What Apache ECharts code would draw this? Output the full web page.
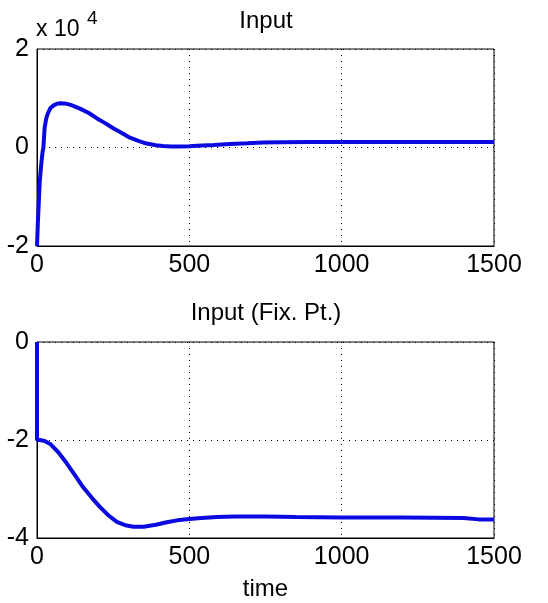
<!DOCTYPE html>
<html>
<head>
<meta charset="utf-8">
<script src="https://cdn.jsdelivr.net/npm/echarts@6/dist/echarts.min.js"></script>
<style>
html,body{margin:0;padding:0;background:#fff;}
#c{width:548px;height:603px;}
</style>
</head>
<body>
<div id="c"></div>
<script>
// ---- data ----
const xTicks = [0, 500, 1000, 1500];
const topTitle = "Input";
const bottomTitle = "Input (Fix. Pt.)";
const xName = "time";

const topTime = [0, 3, 6, 9, 13, 18, 21, 25, 30, 36, 44, 53, 64, 75, 90, 108, 125, 141, 170, 197, 225, 250, 280, 305, 335, 360, 390, 414, 440, 469, 500, 525, 580, 634, 690, 742, 800, 900, 1000, 1100, 1200, 1300, 1400, 1500];
const topValue = [-20000, -15000, -11000, -7000, -4000, -1000, 0, 4000, 5800, 7000, 8000, 8500, 8850, 9000, 8950, 8700, 8300, 7900, 7000, 5900, 4900, 3900, 2900, 2000, 1300, 800, 450, 300, 220, 200, 250, 350, 500, 700, 850, 1000, 1050, 1100, 1100, 1100, 1100, 1100, 1100, 1100];

const botTime = [0, 0, 10, 25, 43, 70, 97, 125, 151, 180, 207, 235, 262, 290, 316, 350, 390, 426, 460, 500, 540, 590, 650, 750, 850, 1000, 1200, 1400, 1450, 1500];
const botValue = [0, -2, -2.0, -2.02, -2.08, -2.25, -2.47, -2.72, -2.96, -3.18, -3.37, -3.54, -3.67, -3.74, -3.77, -3.77, -3.73, -3.68, -3.64, -3.61, -3.59, -3.57, -3.56, -3.56, -3.57, -3.58, -3.58, -3.59, -3.62, -3.62];

const topY = {min: -20000, max: 20000, interval: 20000, scale: 10000};
const botY = {min: -4, max: 0, interval: 2};

// ---- chart ----
const FONT = "'Liberation Sans', Arial, Helvetica, sans-serif";
const BLUE = '#0a0ae0';
const chart = echarts.init(document.getElementById('c'), null, {renderer: 'canvas'});

function xAxisCfg(gi, withName) {
  const o = {
    type: 'value', gridIndex: gi, min: xTicks[0], max: xTicks[xTicks.length - 1], interval: xTicks[1] - xTicks[0],
    axisLine: {show: true, onZero: false, lineStyle: {color: '#000', width: 1}},
    axisTick: {show: false},
    axisLabel: {color: '#000', fontSize: 25, fontFamily: FONT, margin: 7, formatter: v => String(v)},
    splitLine: {show: true, lineStyle: {color: '#000', width: 1, type: [1, 5]}}
  };
  if (withName) {
    o.name = xName; o.nameLocation = 'middle'; o.nameGap = 39;
    o.nameTextStyle = {color: '#000', fontSize: 24, fontFamily: FONT};
  }
  return o;
}
function yAxisCfg(gi, cfg, fmt) {
  return {
    type: 'value', gridIndex: gi, min: cfg.min, max: cfg.max, interval: cfg.interval,
    axisLine: {show: true, onZero: false, lineStyle: {color: '#000', width: 1}},
    axisTick: {show: false},
    axisLabel: {color: '#000', fontSize: 25, fontFamily: FONT, margin: 8, formatter: fmt},
    splitLine: {show: true, lineStyle: {color: '#000', width: 1, type: [1, 5]}}
  };
}

chart.setOption({
  animation: false,
  backgroundColor: '#fff',
  grid: [
    {left: 37, top: 49, width: 457, height: 197, show: true, borderColor: '#000', borderWidth: 1, backgroundColor: 'transparent'},
    {left: 37, top: 342, width: 457, height: 196, show: true, borderColor: '#000', borderWidth: 1, backgroundColor: 'transparent'}
  ],
  xAxis: [xAxisCfg(0, false), xAxisCfg(1, true)],
  yAxis: [
    yAxisCfg(0, topY, v => String(Math.round(v / topY.scale))),
    yAxisCfg(1, botY, v => String(v))
  ],
  graphic: [
    {type: 'text', x: 266, y: 21, style: {text: topTitle, fill: '#000', fontSize: 24, fontFamily: FONT, align: 'center', verticalAlign: 'middle'}},
    {type: 'text', x: 266, y: 313, style: {text: bottomTitle, fill: '#000', fontSize: 24, fontFamily: FONT, align: 'center', verticalAlign: 'middle'}},
    {type: 'text', x: 36, y: 30, style: {text: 'x 10', fill: '#000', fontSize: 23, fontFamily: FONT, align: 'left', verticalAlign: 'middle'}},
    {type: 'text', x: 87, y: 19, style: {text: '4', fill: '#000', fontSize: 19, fontFamily: FONT, align: 'left', verticalAlign: 'middle'}}
  ],
  series: [
    {type: 'line', xAxisIndex: 0, yAxisIndex: 0, symbol: 'none', smooth: false,
     lineStyle: {color: BLUE, width: 4}, itemStyle: {color: BLUE},
     data: topTime.map((t, i) => [t, topValue[i]])},
    {type: 'line', xAxisIndex: 1, yAxisIndex: 1, symbol: 'none', smooth: false,
     lineStyle: {color: BLUE, width: 4}, itemStyle: {color: BLUE},
     data: botTime.map((t, i) => [t, botValue[i]])}
  ]
});
</script>
</body>
</html>
